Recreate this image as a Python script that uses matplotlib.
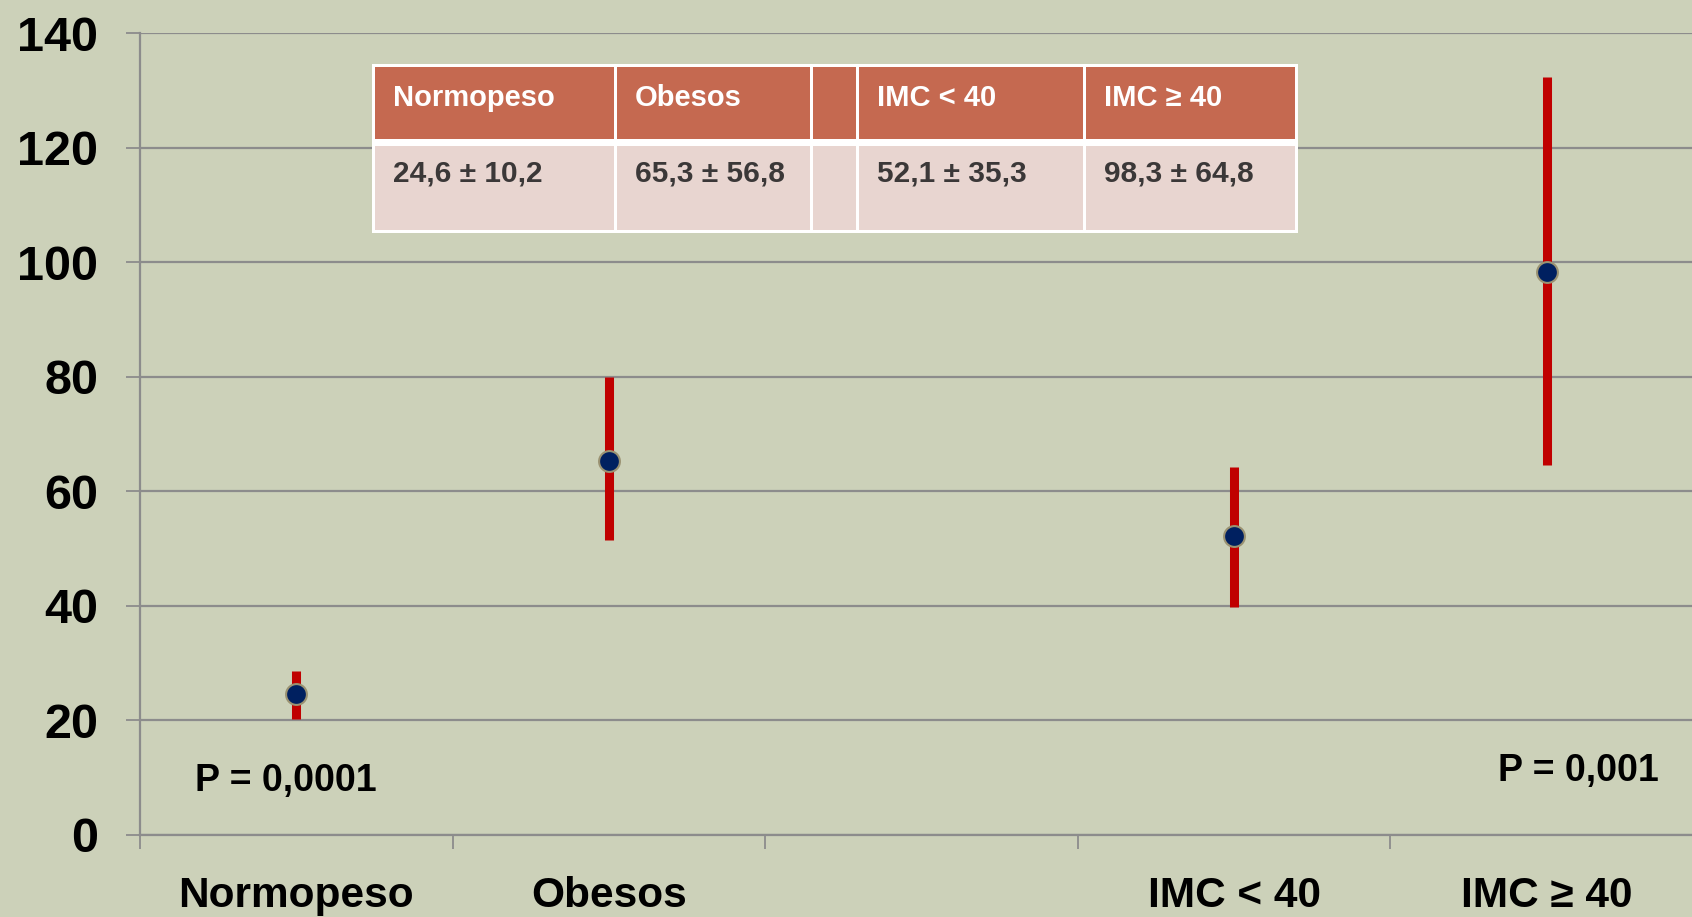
import numpy as np
import matplotlib
matplotlib.use("Agg")
import matplotlib.pyplot as plt
from matplotlib.patches import Rectangle

# ---------------- data ----------------
categories = ["Normopeso", "Obesos", "", "IMC < 40", "IMC ≥ 40"]
means = [24.6, 65.3, np.nan, 52.1, 98.3]
lower = [20.1, 51.5, np.nan, 39.8, 64.6]
upper = [28.5, 79.9, np.nan, 64.3, 132.3]
yticks = [0, 20, 40, 60, 80, 100, 120, 140]

table_headers = ["Normopeso", "Obesos", "", "IMC < 40", "IMC ≥ 40"]
table_values = ["24,6 ± 10,2", "65,3 ± 56,8", "", "52,1 ± 35,3", "98,3 ± 64,8"]

p_left = "P = 0,0001"
p_right = "P = 0,001"

# ---------------- style ----------------
BG = "#CCD1B9"
GRID = "#8C8C8C"
RED = "#C00000"
NAVY = "#002060"
HEAD = "#C56950"
CELL = "#E8D5D0"
FONT = ["Liberation Sans", "DejaVu Sans"]
plt.rcParams["font.family"] = FONT
plt.rcParams["font.weight"] = "bold"

W, H, DPI = 1692, 917, 100
fig = plt.figure(figsize=(W / DPI, H / DPI), dpi=DPI, facecolor=BG)

ax_l, ax_r, ax_t, ax_b = 140, 1703, 33.3, 834.5
ax = fig.add_axes([ax_l / W, 1 - ax_b / H, (ax_r - ax_l) / W, (ax_b - ax_t) / H])
ax.set_facecolor(BG)

x = np.arange(len(categories))
m = np.array(means)
yerr = np.vstack([m - np.array(lower), np.array(upper) - m])
ax.errorbar(x, m, yerr=yerr, fmt="none", ecolor=RED, elinewidth=6.5,
            capsize=0, zorder=3)
ax.plot(x, m, "o", ms=15, mfc=NAVY, mec="#9A9272", mew=1.5, zorder=4, ls="none")

ax.set_xlim(-0.5, len(categories) - 0.5)
ax.set_ylim(0, 140)
ax.set_yticks(yticks)
ax.set_yticklabels([str(v) for v in yticks], fontsize=35, fontweight="bold")
ax.yaxis.grid(True, color=GRID, lw=1.6)
ax.set_axisbelow(True)

ax.set_xticks(np.arange(len(categories) + 1) - 0.5)
ax.set_xticklabels([])
ax.set_xticks(x, minor=True)
ax.set_xticklabels(categories, minor=True, fontsize=30.5, fontweight="bold")
ax.tick_params(axis="x", which="minor", length=0, pad=30)
ax.tick_params(axis="x", which="major", length=10, width=1.3, color=GRID, direction="out")
ax.tick_params(axis="y", length=10, width=1.3, color=GRID, direction="out", pad=20)

for s in ["top", "right"]:
    ax.spines[s].set_visible(False)
for s in ["left", "bottom"]:
    ax.spines[s].set_color(GRID)
    ax.spines[s].set_linewidth(1.6)

ax.text(-0.324, 9.4, p_left, fontsize=27, fontweight="bold", va="center", ha="left")
ax.text(4.357, 11.1, p_right, fontsize=27, fontweight="bold", va="center", ha="right")

# ---------------- table overlay (pixel layout) ----------------
ov = fig.add_axes([0, 0, 1, 1])
ov.set_xlim(0, W)
ov.set_ylim(H, 0)
ov.axis("off")
ov.patch.set_alpha(0)

col_edges = [373, 615, 811.7, 857.3, 1084, 1296]
t_top, h_bot, d_top, t_bot = 65, 138.5, 145.5, 231.5
ov.add_patch(Rectangle((col_edges[0] - 1.5, t_top - 1.5), col_edges[-1] - col_edges[0] + 3,
                       t_bot - t_top + 3, facecolor="white", edgecolor="none"))
bw = 1.5
for i in range(len(table_headers)):
    x0, x1 = col_edges[i] + bw, col_edges[i + 1] - bw
    ov.add_patch(Rectangle((x0, t_top + bw), x1 - x0, h_bot - t_top - bw,
                           facecolor=HEAD, edgecolor="none"))
    ov.add_patch(Rectangle((x0, d_top), x1 - x0, t_bot - d_top - bw,
                           facecolor=CELL, edgecolor="none"))
    ov.text(col_edges[i] + 20, 98.5, table_headers[i], color="white", fontsize=21,
            fontweight="bold", va="center", ha="left")
    ov.text(col_edges[i] + 20, 173.5, table_values[i], color="#3B3838", fontsize=21.5,
            fontweight="bold", va="center", ha="left")

fig.savefig("out.png", dpi=DPI, facecolor=BG)
